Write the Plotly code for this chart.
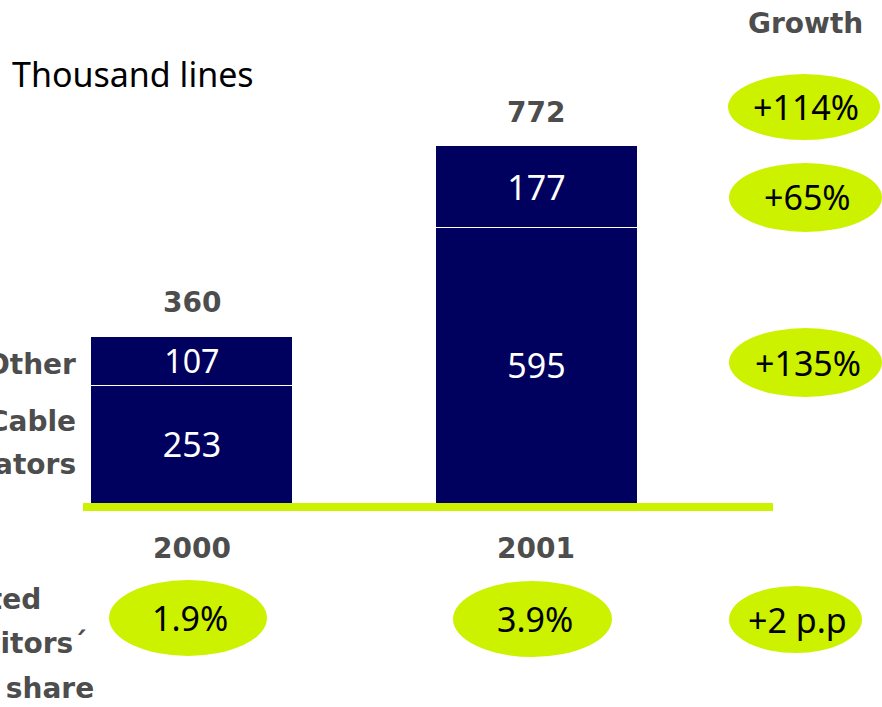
import plotly.graph_objects as go

# Lines in service (thousands) by segment
years = ["2000", "2001"]
cable_operators = [253, 595]
other = [107, 177]
totals = [c + o for c, o in zip(cable_operators, other)]

# Growth 2000 -> 2001 (total, other, cable) and competitors' share
growth_labels = ["+114%", "+65%", "+135%"]
share_labels = ["1.9%", "3.9%"]
share_change = "+2 p.p"

W, H = 882, 707
NAVY = "#00005E"
LIME = "#CCF200"
GREY = "#4D4D4D"
BOLD_FONT = "DejaVu Sans"
BODY_FONT = "Noto Sans"
BOLD = dict(family=BOLD_FONT, size=28, color=GREY, weight="bold")
BODY_SIZE = 34


def px(x):
    return x / W


def py(y):
    return 1 - y / H


fig = go.Figure()
for name, vals in (("Cable operators", cable_operators), ("Other", other)):
    fig.add_trace(go.Bar(
        x=years, y=vals, name=name,
        marker=dict(color=NAVY, line=dict(color="white", width=1)),
        text=[str(v) for v in vals], textposition="inside",
        insidetextanchor="middle",
        textfont=dict(family=BODY_FONT, size=BODY_SIZE, color="white"),
        width=0.586,
    ))

annotations = []
shapes = []

# totals above each bar and year labels under the baseline
for i, (yr, tot) in enumerate(zip(years, totals)):
    annotations.append(dict(x=i, y=tot, xref="x", yref="y", text=str(tot),
                            showarrow=False, yanchor="bottom", yshift=15,
                            font=BOLD))
    annotations.append(dict(x=i, y=0, xref="x", yref="y", text=yr,
                            showarrow=False, yanchor="middle", yshift=-45,
                            font=BOLD))

# lime baseline
shapes.append(dict(type="rect", xref="paper", yref="y",
                   x0=px(83), x1=px(773), y0=-17.3, y1=0,
                   fillcolor=LIME, line=dict(width=0), layer="above"))

# headers and row labels
annotations.append(dict(x=px(10), y=py(74), xref="paper", yref="paper",
                        text="Thousand lines", showarrow=False,
                        xanchor="left", yanchor="middle",
                        font=dict(family=BODY_FONT, size=BODY_SIZE, color="black")))
annotations.append(dict(x=px(805), y=py(23), xref="paper", yref="paper",
                        text="Growth", showarrow=False,
                        xanchor="center", yanchor="middle", font=BOLD))

row_labels = [
    ("Other", 78, 364),
    ("Cable", 78, 421),
    ("operators", 78, 465),
    ("Estimated", 43, 599),
    ("competitors´", 89, 643),
    ("market share", 96, 688),
]
for txt, xr, yc in row_labels:
    annotations.append(dict(x=px(xr), y=py(yc), xref="paper", yref="paper",
                            text=txt, showarrow=False,
                            xanchor="right", yanchor="middle", font=BOLD))

# lime ellipses: growth column and market share row
ellipses = [
    (growth_labels[0], 728, 880, 74, 140),
    (growth_labels[1], 729, 882, 163, 232),
    (growth_labels[2], 729, 882, 328, 397),
    (share_labels[0], 109, 267, 580, 656),
    (share_labels[1], 453, 612, 581, 657),
    (share_change, 729, 862, 586, 653),
]
for txt, x0, x1, y0, y1 in ellipses:
    shapes.append(dict(type="circle", xref="paper", yref="paper",
                       x0=px(x0), x1=px(x1), y0=py(y1), y1=py(y0),
                       fillcolor=LIME, line=dict(width=0), layer="below"))
    annotations.append(dict(x=px((x0 + x1) / 2 + 2), y=py((y0 + y1) / 2),
                            xref="paper", yref="paper", text=txt,
                            showarrow=False, xanchor="center", yanchor="middle",
                            font=dict(family=BODY_FONT, size=BODY_SIZE, color="black")))

fig.update_layout(
    width=W, height=H,
    margin=dict(l=0, r=0, t=0, b=0),
    barmode="stack",
    showlegend=False,
    paper_bgcolor="white",
    plot_bgcolor="rgba(0,0,0,0)",
    xaxis=dict(range=[-0.557, 2.003], visible=False, type="category"),
    yaxis=dict(range=[-440.6, 1086.4], visible=False),
    shapes=shapes,
    annotations=annotations,
)

fig.write_html("out.html")
